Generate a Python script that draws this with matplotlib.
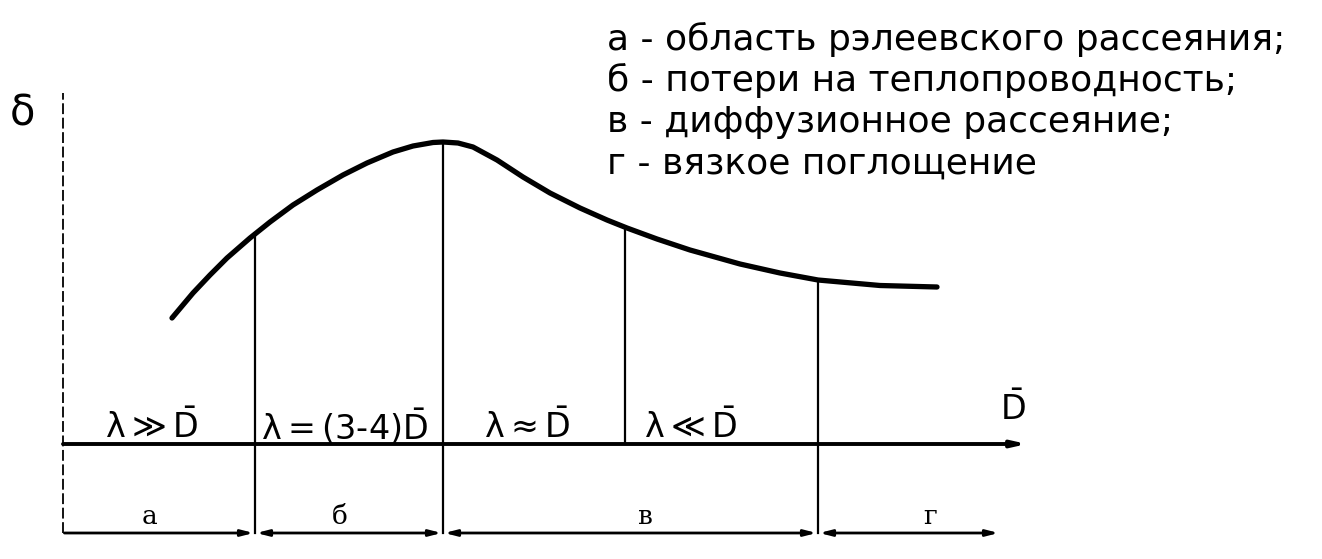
import numpy as np
import matplotlib
matplotlib.use("Agg")
import matplotlib.pyplot as plt

plt.rcParams["mathtext.default"] = "regular"

# ---- data (arbitrary units: mean particle size D along x, attenuation delta along y) ----
curve_D = [10.9, 13.0, 14.7, 16.4, 18.7, 20.7, 23.0, 25.4, 28.0, 30.4, 33.0, 35.0,
           37.0, 38.0, 39.5, 41.0, 43.4, 46.0, 48.7, 51.7, 54.4, 56.4, 59.4, 62.7,
           67.7, 71.7, 75.5, 81.7, 87.4]
curve_delta = [12.6, 15.1, 16.9, 18.6, 20.6, 22.2, 23.9, 25.4, 26.9, 28.1, 29.2, 29.8,
               30.15, 30.2, 30.1, 29.7, 28.4, 26.7, 25.1, 23.6, 22.4, 21.6, 20.5, 19.4,
               18.0, 17.1, 16.4, 15.85, 15.7]
boundaries = [19.2, 38.0, 56.2, 75.5]          # region borders on the D axis
regions = ["а", "б", "в", "г"]
region_label_x = [8.7, 27.7, 58.2, 86.7]
conditions = [r"$\lambda \gg \bar{D}$", r"$\lambda = (3\text{-}4)\bar{D}$",
              r"$\lambda \approx \bar{D}$", r"$\lambda \ll \bar{D}$"]
condition_x = [8.9, 28.2, 46.4, 62.8]
legend_lines = ["а - область рэлеевского рассеяния;",
                "б - потери на теплопроводность;",
                "в - диффузионное рассеяние;",
                "г - вязкое поглощение"]

fig = plt.figure(figsize=(13.22, 5.59), dpi=100)
ax = fig.add_axes([0, 0, 1, 1])
ax.set_xlim(-6.3, 125.9)
ax.set_ylim(-11.5, 44.4)
ax.axis("off")

k = "black"
axis_end = 96.4
bottom_y = -8.9
bottom_end = 93.7

# curve
ax.plot(curve_D, curve_delta, color=k, lw=3.8, solid_capstyle="round",
        solid_joinstyle="round")

# D axis with arrow
ax.annotate("", xy=(axis_end, 0), xytext=(0, 0),
            arrowprops=dict(arrowstyle="-|>,head_length=0.8,head_width=0.18",
                            color=k, lw=2.8, shrinkA=0, shrinkB=0))
ax.text(95.0, 3.5, r"$\bar{D}$", fontsize=24, ha="center", va="center")

# delta axis (dashed, thin)
ax.plot([0, 0], [bottom_y, 35.1], color=k, lw=1.3, ls=(0, (6, 2)))
ax.text(-4.1, 33.0, "δ", fontsize=30, ha="center", va="center",
        family="DejaVu Sans")

# vertical separators
for i, b in enumerate(boundaries):
    top = np.interp(b, curve_D, curve_delta)
    bottom = 0 if i == 2 else bottom_y
    ax.plot([b, b], [bottom, top], color=k, lw=1.6)

# bottom region arrows
edges = [0] + [b for i, b in enumerate(boundaries) if i != 2] + [bottom_end]
for i in range(len(edges) - 1):
    style = "-|>" if i == 0 else "<|-|>"
    ax.annotate("", xy=(edges[i + 1], bottom_y), xytext=(edges[i], bottom_y),
                arrowprops=dict(arrowstyle=style + ",head_length=0.7,head_width=0.18",
                                color=k, lw=2.0, shrinkA=1, shrinkB=1))
for x, r in zip(region_label_x, regions):
    ax.text(x, -7.3, r, fontsize=19, ha="center", va="center", family="DejaVu Serif")

# conditions above D axis
for x, c in zip(condition_x, conditions):
    ax.text(x, 1.7, c, fontsize=24, ha="center", va="center")

# legend text
for i, line in enumerate(legend_lines):
    ax.text(54.4, 40.5 - 4.15 * i, line, fontsize=26, ha="left", va="center",
            family="DejaVu Sans")

fig.savefig("out.png", dpi=100)
